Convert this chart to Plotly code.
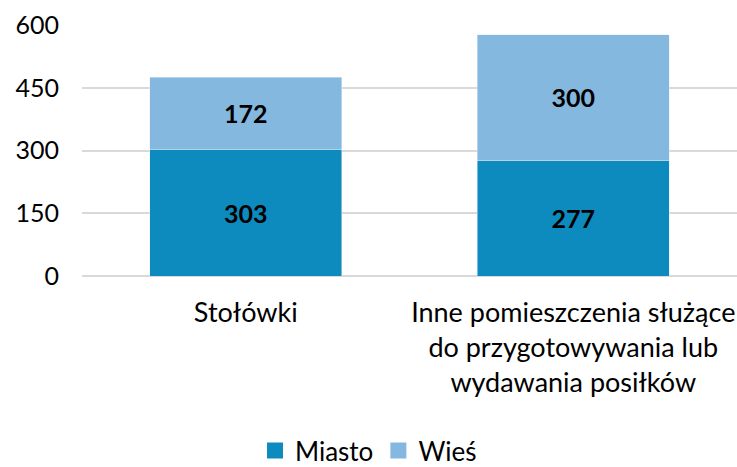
import plotly.graph_objects as go

categories = ["Stołówki", "Inne pomieszczenia służące<br>do przygotowywania lub<br>wydawania posiłków"]
miasto = [303, 277]
wies = [172, 300]
y_ticks = [0, 150, 300, 450, 600]
series_names = ["Miasto", "Wieś"]
series_colors = ["#0E8BBE", "#85B8DF"]

FONT = "Lato"

fig = go.Figure()
for name, vals, col in zip(series_names, [miasto, wies], series_colors):
    fig.add_trace(go.Bar(
        x=categories, y=vals, name=name, marker_color=col,
        text=[str(v) for v in vals], textposition="inside", insidetextanchor="middle",
        textfont=dict(family=FONT, size=25, color="black", weight="bold"),
        width=0.586, showlegend=False,
    ))
# legend entries with larger square swatches
for name, col in zip(series_names, series_colors):
    fig.add_trace(go.Scatter(
        x=[None], y=[None], mode="markers", name=name,
        marker=dict(symbol="square", size=16, color=col),
        showlegend=True,
    ))

fig.update_layout(
    barmode="stack",
    width=737, height=467,
    margin=dict(l=82, r=0, t=25, b=191, autoexpand=False),
    paper_bgcolor="white", plot_bgcolor="white",
    font=dict(family=FONT, size=25, color="black"),
    legend=dict(
        orientation="h", xref="container", yref="container",
        x=0.5, xanchor="center", y=0.035, yanchor="middle",
        font=dict(family=FONT, size=26, color="black"),
        itemwidth=30, traceorder="normal",
    ),
)
fig.update_yaxes(
    range=[0, 600], tickvals=y_ticks, ticktext=[str(v) for v in y_ticks],
    showgrid=True, gridcolor="#D9D9D9", gridwidth=2,
    zeroline=True, zerolinecolor="#D9D9D9", zerolinewidth=2,
    ticklabelstandoff=22, showline=False, automargin=False,
    tickfont=dict(family=FONT, size=25, color="black"),
)
fig.update_xaxes(
    showline=False, ticks="", ticklabelstandoff=18, automargin=False,
    tickfont=dict(family=FONT, size=27, color="black"),
)

fig.write_html("out.html", config={"displayModeBar": False},
               post_script="document.body.style.margin='0';")
